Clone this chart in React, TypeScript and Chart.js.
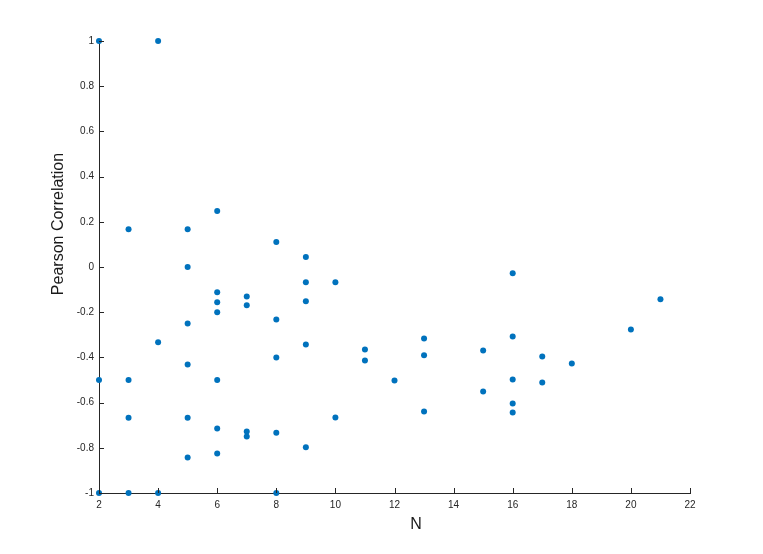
import React, { useEffect, useRef } from "react";
import { Chart, registerables } from "chart.js";

Chart.register(...registerables);

const nValues = [
  2, 2, 2,
  3, 3, 3, 3,
  4, 4, 4,
  5, 5, 5, 5, 5, 5,
  6, 6, 6, 6, 6, 6, 6,
  7, 7, 7, 7,
  8, 8, 8, 8, 8,
  9, 9, 9, 9, 9,
  10, 10,
  11, 11,
  12,
  13, 13, 13,
  15, 15,
  16, 16, 16, 16, 16,
  17, 17,
  18,
  20,
  21,
];
const correlations = [
  1, -0.5, -1,
  0.167, -0.5, -0.667, -1,
  1, -0.333, -1,
  0.167, 0, -0.25, -0.431, -0.667, -0.843,
  0.248, -0.112, -0.156, -0.2, -0.5, -0.715, -0.825,
  -0.13, -0.169, -0.728, -0.75,
  0.111, -0.232, -0.4, -0.733, -1,
  0.044, -0.067, -0.152, -0.343, -0.798,
  -0.067, -0.666,
  -0.365, -0.414,
  -0.502,
  -0.316, -0.391, -0.639,
  -0.369, -0.551,
  -0.028, -0.307, -0.498, -0.604, -0.644,
  -0.396, -0.511,
  -0.427,
  -0.276,
  -0.143,
];
const xTicks = [2, 4, 6, 8, 10, 12, 14, 16, 18, 20, 22];
const yTicks = [-1, -0.8, -0.6, -0.4, -0.2, 0, 0.2, 0.4, 0.6, 0.8, 1];
const xTitle = "N";
const yTitle = "Pearson Correlation";

const FONT = "'Liberation Sans', Arial, Helvetica, sans-serif";
const AXIS_COLOR = "#262626";

const inwardTicks = {
  id: "inwardTicks",
  afterDraw(chart: any) {
    const { ctx, chartArea, scales } = chart;
    ctx.save();
    ctx.strokeStyle = AXIS_COLOR;
    ctx.lineWidth = 1;
    ctx.beginPath();
    for (const v of xTicks) {
      const x = Math.round(scales.x.getPixelForValue(v)) + 0.5;
      ctx.moveTo(x, chartArea.bottom);
      ctx.lineTo(x, chartArea.bottom - 5);
    }
    for (const v of yTicks) {
      const y = Math.round(scales.y.getPixelForValue(v)) + 0.5;
      ctx.moveTo(chartArea.left, y);
      ctx.lineTo(chartArea.left + 5, y);
    }
    ctx.stroke();

    // axis titles
    ctx.fillStyle = "#1a1a1a";
    ctx.font = `16px ${FONT}`;
    ctx.textAlign = "center";
    ctx.textBaseline = "middle";
    ctx.fillText(xTitle, 416, 525);
    ctx.translate(59, 224);
    ctx.rotate(-Math.PI / 2);
    ctx.fillText(yTitle, 0, 0);
    ctx.restore();
  },
};

export default function App() {
  const ref = useRef<HTMLCanvasElement>(null);
  useEffect(() => {
    if (!ref.current) return;
    const data = nValues.map((n, i) => ({ x: n, y: correlations[i] }));
    const chart = new Chart(ref.current, {
      type: "scatter",
      data: {
        datasets: [
          {
            data,
            backgroundColor: "#0072BD",
            borderColor: "#0072BD",
            pointRadius: 3,
            pointBorderWidth: 0,
            clip: false as any,
          },
        ],
      },
      options: {
        animation: false,
        responsive: false,
        maintainAspectRatio: false,
        layout: { padding: { top: 41, right: 73, left: 0, bottom: 0 } },
        plugins: {
          legend: { display: false },
          tooltip: { enabled: false },
        },
        scales: {
          x: {
            type: "linear",
            min: 2,
            max: 22,
            afterBuildTicks: (axis: any) => {
              axis.ticks = xTicks.map((v) => ({ value: v }));
            },
            afterFit: (axis: any) => {
              axis.height = 61;
            },
            grid: { display: false, drawTicks: false },
            border: { display: true, color: AXIS_COLOR, width: 1 },
            ticks: {
              color: AXIS_COLOR,
              font: { family: FONT, size: 10 },
              padding: 6,
              maxRotation: 0,
              autoSkip: false,
              callback: (v: any) => String(v),
            },
            title: { display: false },
          },
          y: {
            type: "linear",
            min: -1,
            max: 1,
            afterBuildTicks: (axis: any) => {
              axis.ticks = yTicks.map((v) => ({ value: v }));
            },
            afterFit: (axis: any) => {
              axis.width = 99;
            },
            grid: { display: false, drawTicks: false },
            border: { display: true, color: AXIS_COLOR, width: 1 },
            ticks: {
              color: AXIS_COLOR,
              font: { family: FONT, size: 10 },
              padding: 5,
              autoSkip: false,
              callback: (v: any) => String(Math.round(Number(v) * 10) / 10),
            },
            title: { display: false },
          },
        },
      },
      plugins: [inwardTicks],
    });
    return () => chart.destroy();
  }, []);
  return (
    <div style={{ position: "fixed", left: 0, top: 0, width: 763, height: 554, background: "#fff" }}>
      <canvas ref={ref} width={763} height={554} style={{ width: 763, height: 554, display: "block" }} />
    </div>
  );
}
